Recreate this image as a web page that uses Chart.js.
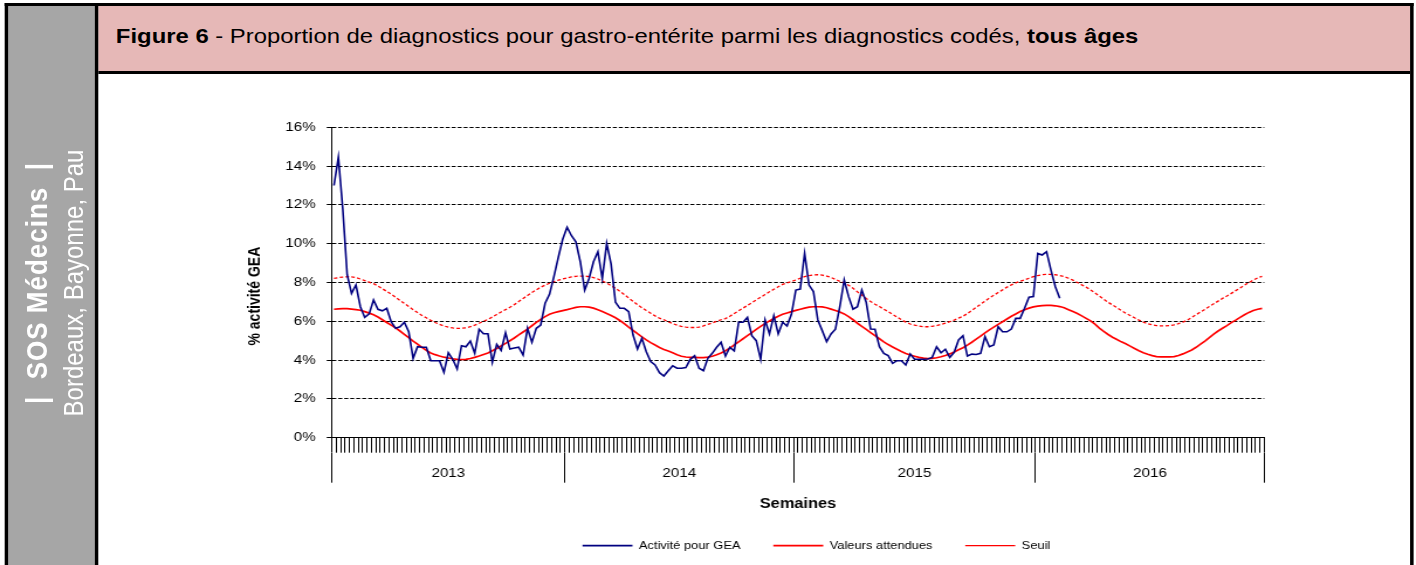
<!DOCTYPE html>
<html>
<head>
<meta charset="utf-8">
<script src="https://cdn.jsdelivr.net/npm/chart.js@4.4.1/dist/chart.umd.min.js"></script>
<style>
html, body { margin: 0; padding: 0; background: #fff; overflow: hidden; }
#page { position: absolute; left: 0; top: 0; width: 1210px; height: 565px; overflow: hidden;
        transform: scaleX(1.1702); transform-origin: 0 0;
        font-family: "Liberation Sans", Arial, sans-serif; }
.blk { position: absolute; background: #000; }
#side { position: absolute; left: 6.8px; top: 5.7px; width: 73.8px; height: 600px; background: #a6a6a6; }
#head { position: absolute; left: 84px; top: 5.7px; width: 1121px; height: 65px; background: #e6b8b7; }
#htxt { position: absolute; left: 99px; top: 26.2px; font-size: 20.4px; line-height: 20px; white-space: nowrap; color: #000; }
#stxt { position: absolute; left: -153px; top: 251px; width: 400px; height: 64px; transform: rotate(-90deg);
        text-align: center; color: #fff; white-space: nowrap; }
#stxt .l1 { font-weight: bold; font-size: 26px; line-height: 32px; letter-spacing: 1px; }
#stxt .l2 { font-size: 24px; line-height: 32px; }
#chart { position: absolute; left: 84px; top: 74px; }
</style>
</head>
<body>
<div id="page">
  <div id="side"></div>
  <div id="head"></div>
  <div class="blk" style="left:4.3px;top:3.3px;width:1203.3px;height:2.4px"></div>
  <div class="blk" style="left:4.3px;top:3.3px;width:2.5px;height:600px"></div>
  <div class="blk" style="left:1205px;top:3.3px;width:2.6px;height:600px"></div>
  <div class="blk" style="left:80.6px;top:5.7px;width:3.4px;height:600px"></div>
  <div class="blk" style="left:84px;top:70.7px;width:1121px;height:3.3px"></div>
  <div id="htxt"><b>Figure 6</b> - Proportion de diagnostics pour gastro-entérite parmi les diagnostics codés, <b>tous âges</b></div>
  <div id="stxt"><div class="l1">|&nbsp; SOS Médecins &nbsp;|</div><div class="l2">Bordeaux, Bayonne, Pau</div></div>
  <canvas id="chart" width="1121" height="491"></canvas>
</div>
<script>
// années et nombre de semaines affichées par année
const yearNames = ['2013', '2014', '2015', '2016'];
const weeksPerYear = [53, 52, 55, 52];
const yTicks = [0, 2, 4, 6, 8, 10, 12, 14, 16];

// % activité GEA
const activite = [
  13.0, 14.45, 11.8, 8.4, 7.44, 7.87, 6.75, 6.2, 6.38, 7.1,
  6.62, 6.54, 6.67, 5.98, 5.64, 5.72, 5.95, 5.46, 4.09, 4.69,
  4.66, 4.66, 3.97, 3.97, 3.97, 3.37, 4.38, 4.04, 3.54, 4.74,
  4.69, 4.98, 4.35, 5.59, 5.36, 5.36, 3.89, 4.81, 4.5, 5.41,
  4.57, 4.62, 4.67, 4.26, 5.64, 4.92, 5.64, 5.81, 6.93, 7.39,
  8.3, 9.3, 10.23, 10.85, 10.41, 10.1, 9.07, 7.61, 8.21, 9.07,
  9.59, 8.21, 10.02, 8.95, 6.98, 6.67, 6.67, 6.5, 5.29, 4.57,
  5.12, 4.43, 3.92, 3.75, 3.35, 3.18, 3.45, 3.71, 3.58, 3.58,
  3.62, 4.04, 4.23, 3.58, 3.45, 4.09, 4.35, 4.66, 4.92, 4.21,
  4.66, 4.48, 5.95, 5.95, 6.2, 5.26, 5.0, 4.04, 6.07, 5.35,
  6.29, 5.35, 5.95, 5.76, 6.36, 7.61, 7.66, 9.5, 7.87, 7.53,
  6.07, 5.52, 4.95, 5.35, 5.59, 6.75, 8.13, 7.27, 6.62, 6.75,
  7.61, 6.98, 5.6, 5.59, 4.69, 4.35, 4.23, 3.83, 3.97, 3.97,
  3.75, 4.31, 4.04, 4.04, 4.04, 4.06, 4.14, 4.69, 4.38, 4.56,
  4.14, 4.4, 5.04, 5.26, 4.21, 4.31, 4.29, 4.35, 5.21, 4.69,
  4.78, 5.72, 5.46, 5.46, 5.6, 6.15, 6.15, 6.67, 7.24, 7.27,
  9.5, 9.42, 9.59, 8.64, 7.78, 7.19
];

const attendues = [
  6.62, 6.64, 6.65, 6.65, 6.63, 6.60, 6.57, 6.50, 6.42, 6.34,
  6.22, 6.08, 5.94, 5.80, 5.66, 5.50, 5.33, 5.16, 4.98, 4.82,
  4.66, 4.50, 4.37, 4.28, 4.21, 4.15, 4.11, 4.07, 4.04, 4.03,
  4.04, 4.08, 4.14, 4.21, 4.29, 4.37, 4.48, 4.60, 4.73, 4.86,
  5.00, 5.14, 5.30, 5.45, 5.60, 5.77, 5.94, 6.10, 6.24, 6.36,
  6.44, 6.50, 6.55, 6.60, 6.66, 6.72, 6.75, 6.75, 6.73, 6.68,
  6.60, 6.50, 6.40, 6.30, 6.18, 6.04, 5.88, 5.70, 5.53, 5.36,
  5.20, 5.04, 4.90, 4.78, 4.65, 4.55, 4.47, 4.38, 4.28, 4.20,
  4.16, 4.14, 4.14, 4.13, 4.13, 4.15, 4.20, 4.28, 4.37, 4.48,
  4.62, 4.78, 4.94, 5.10, 5.26, 5.42, 5.58, 5.74, 5.88, 6.02,
  6.14, 6.26, 6.36, 6.43, 6.50, 6.56, 6.62, 6.68, 6.73, 6.75,
  6.75, 6.74, 6.70, 6.63, 6.56, 6.48, 6.38, 6.24, 6.08, 5.90,
  5.74, 5.58, 5.42, 5.26, 5.10, 4.94, 4.80, 4.68, 4.56, 4.44,
  4.34, 4.26, 4.20, 4.14, 4.10, 4.08, 4.09, 4.12, 4.17, 4.24,
  4.32, 4.42, 4.53, 4.64, 4.77, 4.92, 5.08, 5.24, 5.40, 5.56,
  5.70, 5.84, 5.98, 6.12, 6.26, 6.38, 6.50, 6.60, 6.68, 6.74,
  6.78, 6.81, 6.82, 6.82, 6.80, 6.76, 6.70, 6.60, 6.50, 6.40,
  6.28, 6.15, 6.02, 5.85, 5.65, 5.48, 5.32, 5.18, 5.06, 4.94,
  4.84, 4.72, 4.60, 4.48, 4.38, 4.30, 4.23, 4.18, 4.17, 4.17,
  4.17, 4.18, 4.24, 4.32, 4.42, 4.52, 4.66, 4.82, 4.98, 5.16,
  5.34, 5.50, 5.64, 5.78, 5.93, 6.06, 6.20, 6.34, 6.46, 6.56,
  6.62, 6.67
];

const seuil = [
  8.21, 8.25, 8.28, 8.30, 8.29, 8.25, 8.18, 8.10, 8.02, 7.94,
  7.82, 7.68, 7.54, 7.40, 7.24, 7.08, 6.92, 6.76, 6.60, 6.45,
  6.30, 6.18, 6.05, 5.94, 5.84, 5.76, 5.70, 5.66, 5.64, 5.64,
  5.66, 5.72, 5.80, 5.90, 6.00, 6.10, 6.22, 6.35, 6.48, 6.60,
  6.72, 6.86, 7.02, 7.18, 7.33, 7.48, 7.62, 7.76, 7.86, 7.96,
  8.04, 8.12, 8.18, 8.24, 8.29, 8.32, 8.33, 8.33, 8.30, 8.25,
  8.18, 8.08, 7.97, 7.84, 7.70, 7.55, 7.38, 7.20, 7.03, 6.86,
  6.70, 6.56, 6.42, 6.28, 6.16, 6.08, 5.98, 5.88, 5.80, 5.74,
  5.70, 5.68, 5.68, 5.70, 5.76, 5.84, 5.92, 6.00, 6.08, 6.14,
  6.26, 6.40, 6.54, 6.68, 6.82, 6.96, 7.10, 7.24, 7.38, 7.52,
  7.65, 7.78, 7.90, 7.98, 8.05, 8.13, 8.22, 8.30, 8.36, 8.39,
  8.40, 8.38, 8.33, 8.26, 8.16, 8.06, 7.98, 7.86, 7.70, 7.52,
  7.35, 7.18, 7.02, 6.88, 6.76, 6.62, 6.50, 6.36, 6.22, 6.08,
  5.96, 5.86, 5.80, 5.75, 5.72, 5.72, 5.74, 5.78, 5.84, 5.90,
  5.98, 6.06, 6.16, 6.26, 6.40, 6.56, 6.72, 6.88, 7.04, 7.20,
  7.34, 7.48, 7.62, 7.76, 7.88, 7.98, 8.06, 8.13, 8.22, 8.30,
  8.36, 8.40, 8.42, 8.42, 8.40, 8.36, 8.30, 8.22, 8.12, 8.00,
  7.88, 7.76, 7.62, 7.46, 7.30, 7.14, 6.98, 6.84, 6.70, 6.56,
  6.42, 6.30, 6.18, 6.06, 5.96, 5.88, 5.82, 5.78, 5.76, 5.76,
  5.78, 5.82, 5.88, 5.96, 6.06, 6.20, 6.34, 6.48, 6.62, 6.76,
  6.90, 7.04, 7.18, 7.30, 7.44, 7.58, 7.72, 7.86, 8.00, 8.12,
  8.24, 8.32
];

// une catégorie par semaine
const weekLabels = [];
yearNames.forEach((y, k) => {
  for (let w = 1; w <= weeksPerYear[k]; w++) weekLabels.push(y + '-S' + String(w).padStart(2, '0'));
});

// graduations de l'axe des années : limites et milieux
const yearTicks = [];
let start = -0.5;
weeksPerYear.forEach(n => {
  yearTicks.push(start, start + n / 2);
  start += n;
});
yearTicks.push(start);

Chart.defaults.font.family = '"Liberation Sans", Arial, sans-serif';
Chart.defaults.color = '#000';

const legendShift = {
  id: 'legendShift',
  afterLayout(chart) {
    chart.legend.left += 15.7;
    chart.legend.right += 15.7;
  }
};

new Chart(document.getElementById('chart'), {
  type: 'line',
  data: {
    labels: weekLabels,
    datasets: [
      { label: 'Activité pour GEA', data: activite, borderColor: '#000080', backgroundColor: '#000080',
        borderWidth: 1.6, pointRadius: 0, tension: 0 },
      { label: 'Valeurs attendues', data: attendues, borderColor: '#ff0000', backgroundColor: '#ff0000',
        borderWidth: 1.7, pointRadius: 0, tension: 0 },
      { label: 'Seuil', data: seuil, borderColor: '#ff0000', backgroundColor: '#ff0000',
        borderWidth: 1.3, borderDash: [3, 2], pointRadius: 0, tension: 0 }
    ]
  },
  options: {
    responsive: false,
    animation: false,
    layout: { padding: { left: 121.5, right: 124.6, top: 53.3, bottom: 3.9 } },
    scales: {
      y: {
        min: 0, max: 16,
        afterBuildTicks: s => { s.ticks = yTicks.map(v => ({ value: v })); },
        afterFit: s => { s.width = 78; },
        ticks: { font: { size: 13 }, padding: 9.5, callback: v => v + '%' },
        grid: { color: '#000', lineWidth: 1, tickLength: 4.3, tickColor: '#000' },
        border: { color: '#000', width: 1, dash: [3.4, 1.7] },
        title: { display: true, text: '% activité GEA' + '\u00a0'.repeat(7), font: { size: 14, weight: 'bold' }, padding: 4 }
      },
      x: {
        type: 'category',
        offset: true,
        afterFit: s => { s.height = 15; },
        ticks: { display: false, autoSkip: false },
        grid: { offset: true, drawOnChartArea: false, tickLength: 15, tickColor: '#000', tickWidth: 1 },
        border: { color: '#000', width: 1 }
      },
      years: {
        type: 'linear', position: 'bottom', min: -0.5, max: 211.5,
        afterBuildTicks: s => { s.ticks = yearTicks.map(v => ({ value: v })); },
        afterFit: s => { s.height = 59.4; },
        ticks: { autoSkip: false, maxRotation: 0, padding: -17, font: { size: 13 },
                 callback: (v, i) => (i % 2 === 1 ? yearNames[(i - 1) / 2] : '') },
        grid: { drawOnChartArea: false, tickLength: 30, tickWidth: 1,
                tickColor: c => (c.index % 2 === 0 ? '#000' : 'rgba(0,0,0,0)') },
        border: { display: false },
        title: { display: true, text: 'Semaines', font: { size: 14, weight: 'bold' }, padding: { top: 14, bottom: 0 } }
      }
    },
    plugins: {
      tooltip: { enabled: false },
      legend: {
        position: 'bottom',
        fullSize: false,
        labels: { usePointStyle: true, pointStyle: 'line', pointStyleWidth: 42.7, padding: 28, font: { size: 11 } }
      }
    }
  },
  plugins: [legendShift]
});
</script>
</body>
</html>
